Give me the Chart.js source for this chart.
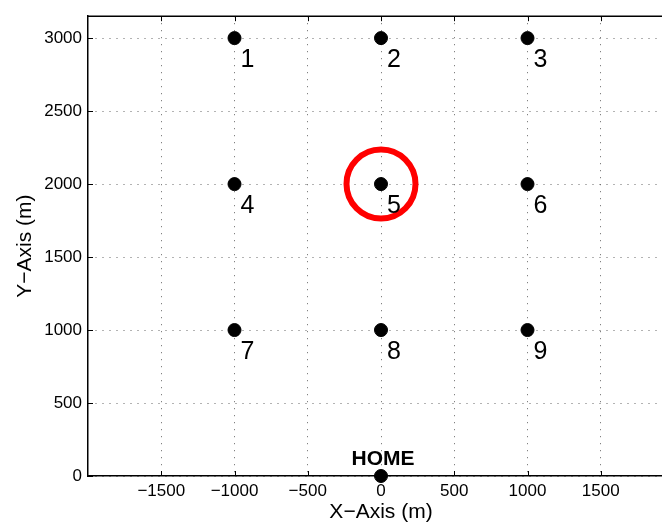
<!DOCTYPE html>
<html>
<head>
<meta charset="utf-8">
<script src="https://cdn.jsdelivr.net/npm/chart.js@4.4.0/dist/chart.umd.min.js"></script>
<style>
  html, body { margin: 0; padding: 0; background: #fff; overflow: hidden; }
  #chart { display: block; }
</style>
</head>
<body>
<canvas id="chart" width="680" height="525"></canvas>
<script>
// waypoints on the grid
const waypointX = [-1000, 0, 1000, -1000, 0, 1000, -1000, 0, 1000];
const waypointY = [3000, 3000, 3000, 2000, 2000, 2000, 1000, 1000, 1000];
const waypointLabels = ['1', '2', '3', '4', '5', '6', '7', '8', '9'];

// home base
const homeX = [0];
const homeY = [0];
const homeLabel = 'HOME';

// highlighted target
const targetX = [0];
const targetY = [2000];

// axis ticks
const xTicks = [-1500, -1000, -500, 0, 500, 1000, 1500];
const yTicks = [0, 500, 1000, 1500, 2000, 2500, 3000];

const FONT = '"Liberation Sans", Arial, Helvetica, sans-serif';

function minus(v) {
    return v < 0 ? '\u2212' + Math.abs(v) : String(v);
}

function toPoints(xs, ys) {
    return xs.map((x, i) => ({ x: x, y: ys[i] }));
}

// labels next to the points, inner tick marks and the top frame line
const annotate = {
    id: 'annotate',
    afterDatasetsDraw(chart) {
        const ctx = chart.ctx;
        const area = chart.chartArea;
        const xs = chart.scales.x, ys = chart.scales.y;
        ctx.save();
        ctx.strokeStyle = '#000';
        ctx.lineWidth = 1;
        ctx.beginPath();
        xTicks.forEach(v => {
            const px = Math.round(xs.getPixelForValue(v)) + 0.5;
            ctx.moveTo(px, area.bottom); ctx.lineTo(px, area.bottom - 5);
            ctx.moveTo(px, area.top); ctx.lineTo(px, area.top + 5);
        });
        yTicks.forEach(v => {
            const py = Math.round(ys.getPixelForValue(v)) + 0.5;
            ctx.moveTo(area.left, py); ctx.lineTo(area.left + 5, py);
        });
        ctx.stroke();
        ctx.lineWidth = 1.5;
        ctx.beginPath();
        ctx.moveTo(area.left, area.top);
        ctx.lineTo(area.right, area.top);
        ctx.lineTo(area.right, area.bottom);
        ctx.stroke();

        ctx.fillStyle = '#000';
        ctx.font = '25px ' + FONT;
        ctx.textAlign = 'left';
        ctx.textBaseline = 'alphabetic';
        chart.getDatasetMeta(0).data.forEach((pt, i) => {
            ctx.fillText(waypointLabels[i], pt.x + 6, pt.y + 29);
        });
        ctx.font = 'bold 21px ' + FONT;
        ctx.textAlign = 'center';
        const h = chart.getDatasetMeta(1).data[0];
        ctx.fillText(homeLabel, h.x + 2, h.y - 11);
        ctx.restore();
    }
};

new Chart(document.getElementById('chart'), {
    type: 'scatter',
    data: {
        datasets: [
            {
                label: 'Waypoints',
                data: toPoints(waypointX, waypointY),
                backgroundColor: '#000',
                borderColor: '#000',
                pointRadius: 6.5,
                pointHoverRadius: 6.5
            },
            {
                label: 'Home',
                data: toPoints(homeX, homeY),
                backgroundColor: '#000',
                borderColor: '#000',
                pointRadius: 6.5,
                pointHoverRadius: 6.5
            },
            {
                label: 'Target',
                data: toPoints(targetX, targetY),
                backgroundColor: 'rgba(0,0,0,0)',
                borderColor: '#ff0000',
                borderWidth: 6,
                pointRadius: 34.5,
                pointHoverRadius: 34.5,
                pointBorderWidth: 6
            }
        ]
    },
    options: {
        responsive: false,
        animation: false,
        devicePixelRatio: 1,
        clip: false,
        layout: { autoPadding: false, padding: { left: 0, top: 14, right: 6, bottom: 0 } },
        plugins: {
            legend: { display: false },
            tooltip: { enabled: false }
        },
        scales: {
            x: {
                type: 'linear',
                min: -2000,
                max: 2000,
                afterBuildTicks: s => { s.ticks = xTicks.map(v => ({ value: v })); },
                afterFit: s => { s.height = 49; },
                ticks: {
                    color: '#000',
                    padding: 5,
                    maxRotation: 0,
                    font: { family: FONT, size: 17 },
                    callback: v => minus(v)
                },
                grid: { color: '#666', lineWidth: 1, drawTicks: false },
                border: { display: true, color: '#000', width: 1.5, dash: [1, 6] },
                title: {
                    display: true,
                    text: 'X\u2212Axis (m)',
                    color: '#000',
                    padding: { top: 0, bottom: 0 },
                    font: { family: FONT, size: 21 }
                }
            },
            y: {
                type: 'linear',
                min: 0,
                max: 3150,
                afterBuildTicks: s => { s.ticks = yTicks.map(v => ({ value: v })); },
                afterFit: s => { s.width = 88; },
                ticks: {
                    color: '#000',
                    padding: 6,
                    font: { family: FONT, size: 17 },
                    callback: v => minus(v)
                },
                grid: { color: '#666', lineWidth: 1, drawTicks: false },
                border: { display: true, color: '#000', width: 1.5, dash: [1, 6] },
                title: {
                    display: true,
                    text: 'Y\u2212Axis (m)',
                    color: '#000',
                    padding: { top: 13, bottom: 0 },
                    font: { family: FONT, size: 21 }
                }
            }
        }
    },
    plugins: [annotate]
});
</script>
</body>
</html>
